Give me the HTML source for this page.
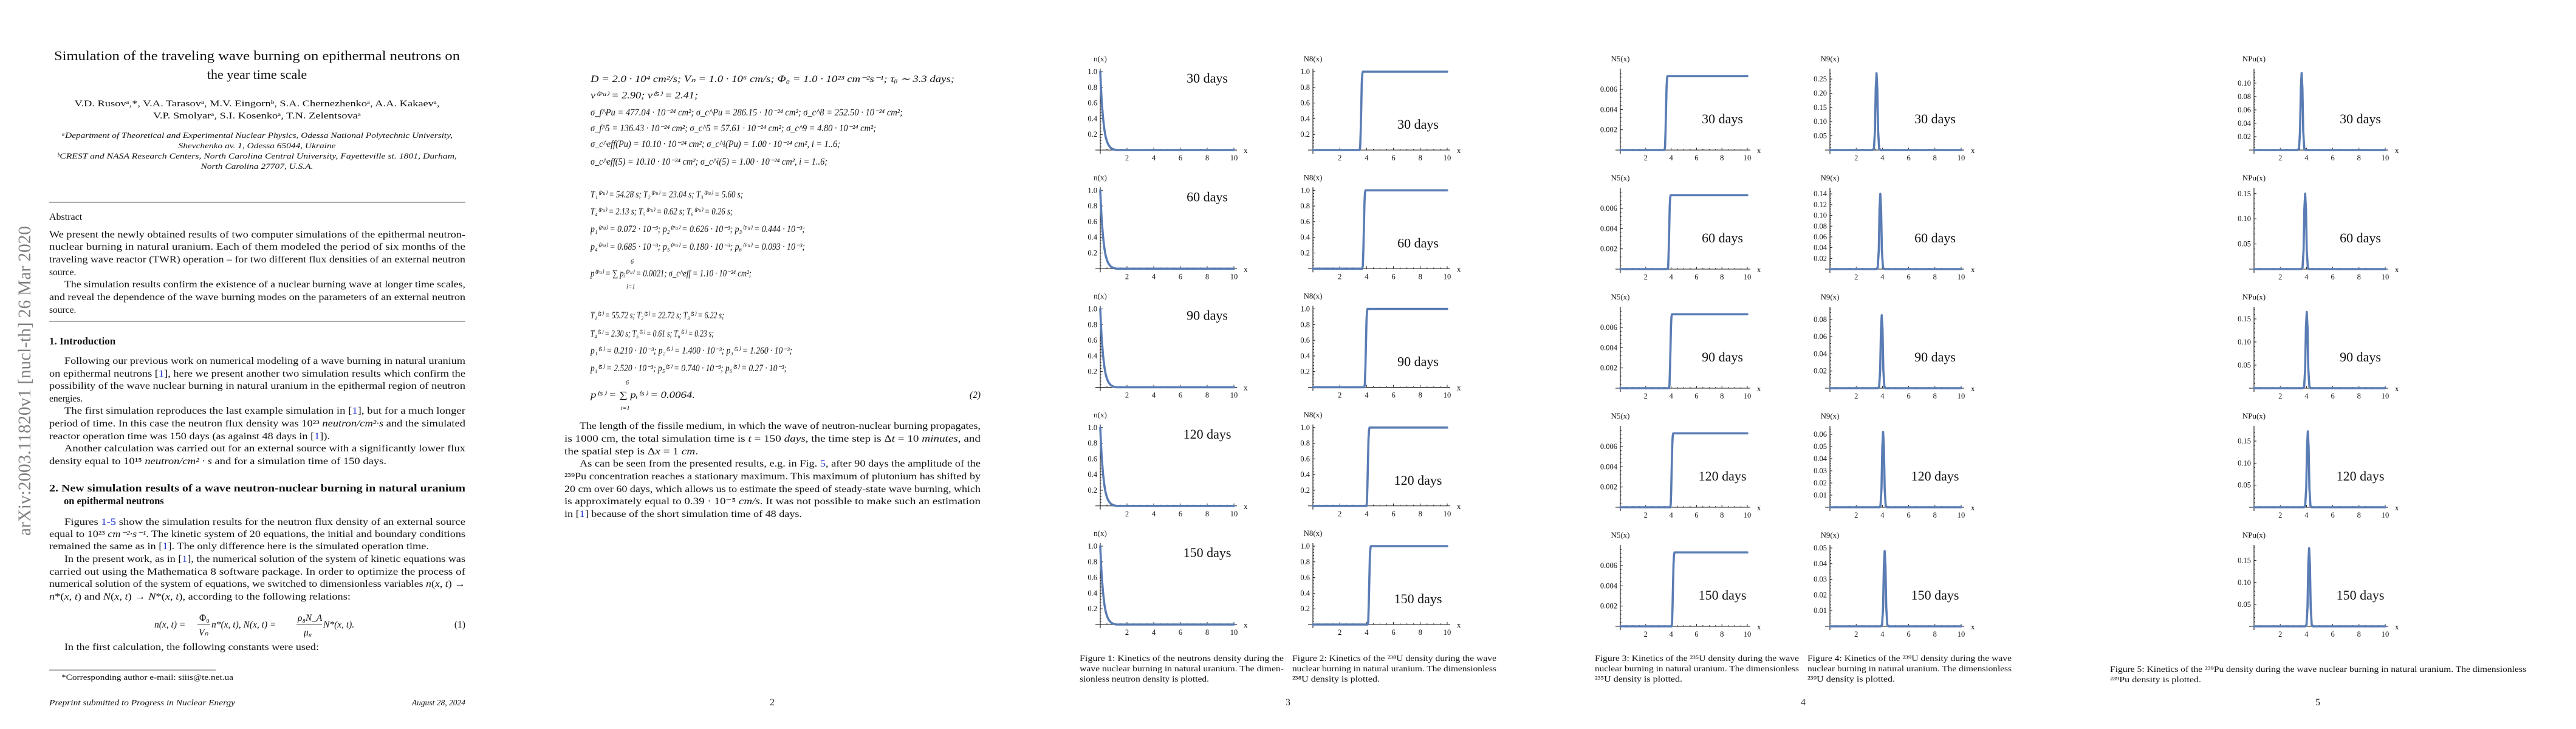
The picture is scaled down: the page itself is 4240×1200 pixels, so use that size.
<!DOCTYPE html>
<html><head><meta charset="utf-8"><title>TWR simulation paper</title>
<style>
html,body{margin:0;padding:0;background:#fff;}
svg{display:block;}
text{font-family:"Liberation Serif",serif;fill:#111;}
.it{font-style:italic;}
.b{font-weight:bold;}
</style></head>
<body>
<svg id="doc" width="4240" height="1200" viewBox="0 0 4240 1200" xmlns="http://www.w3.org/2000/svg">
<rect width="4240" height="1200" fill="#fff"/>

<!-- PAGE 1 -->
<g>
<text transform="translate(50,882) rotate(-90)" font-size="30" style="fill:#808080" textLength="510" lengthAdjust="spacingAndGlyphs">arXiv:2003.11820v1  [nucl-th]  26 Mar 2020</text>
<g font-size="22" text-anchor="middle">
<text x="423" y="99" textLength="668" lengthAdjust="spacingAndGlyphs">Simulation of the traveling wave burning on epithermal neutrons on</text>
<text x="423" y="130">the year time scale</text>
</g>
<g font-size="15" text-anchor="middle">
<text x="423" y="175" textLength="601" lengthAdjust="spacingAndGlyphs">V.D. Rusovᵃ,*, V.A. Tarasovᵃ, M.V. Eingornᵇ, S.A. Chernezhenkoᵃ, A.A. Kakaevᵃ,</text>
<text x="423" y="195" textLength="342" lengthAdjust="spacingAndGlyphs">V.P. Smolyarᵃ, S.I. Kosenkoᵃ, T.N. Zelentsovaᵃ</text>
</g>
<g font-size="13" class="it" text-anchor="middle">
<text x="423" y="227" class="it" textLength="644" lengthAdjust="spacingAndGlyphs">ᵃDepartment of Theoretical and Experimental Nuclear Physics, Odessa National Polytechnic University,</text>
<text x="423" y="244" class="it" textLength="259" lengthAdjust="spacingAndGlyphs">Shevchenko av. 1, Odessa 65044, Ukraine</text>
<text x="423" y="261" class="it" textLength="658" lengthAdjust="spacingAndGlyphs">ᵇCREST and NASA Research Centers, North Carolina Central University, Fayetteville st. 1801, Durham,</text>
<text x="423" y="278" class="it" textLength="185" lengthAdjust="spacingAndGlyphs">North Carolina 27707, U.S.A.</text>
</g>
<line x1="81" y1="333" x2="766" y2="333" stroke="#222" stroke-width="0.8"/>
<text x="81" y="362" font-size="16">Abstract</text>
<g font-size="15.5">
<text x="81" y="391" textLength="685" lengthAdjust="spacingAndGlyphs">We present the newly obtained results of two computer simulations of the epithermal neutron-</text>
<text x="81" y="411" textLength="685" lengthAdjust="spacingAndGlyphs">nuclear burning in natural uranium.  Each of them modeled the period of six months of the</text>
<text x="81" y="432" textLength="685" lengthAdjust="spacingAndGlyphs">traveling wave reactor (TWR) operation – for two different flux densities of an external neutron</text>
<text x="81" y="453">source.</text>
<text x="106" y="473" textLength="660" lengthAdjust="spacingAndGlyphs">The simulation results confirm the existence of a nuclear burning wave at longer time scales,</text>
<text x="81" y="494" textLength="685" lengthAdjust="spacingAndGlyphs">and reveal the dependence of the wave burning modes on the parameters of an external neutron</text>
<text x="81" y="515">source.</text>
</g>
<line x1="81" y1="529" x2="766" y2="529" stroke="#222" stroke-width="0.8"/>
<text x="81" y="567" font-size="17" class="b">1.  Introduction</text>
<g font-size="15.5">
<text x="106" y="599" textLength="660" lengthAdjust="spacingAndGlyphs">Following our previous work on numerical modeling of a wave burning in natural uranium</text>
<text x="81" y="620" textLength="685" lengthAdjust="spacingAndGlyphs">on epithermal neutrons [<tspan style="fill:#2233cc">1</tspan>], here we present another two simulation results which confirm the</text>
<text x="81" y="640" textLength="685" lengthAdjust="spacingAndGlyphs">possibility of the wave nuclear burning in natural uranium in the epithermal region of neutron</text>
<text x="81" y="661">energies.</text>
<text x="106" y="681" textLength="660" lengthAdjust="spacingAndGlyphs">The first simulation reproduces the last example simulation in [<tspan style="fill:#2233cc">1</tspan>], but for a much longer</text>
<text x="81" y="702" textLength="685" lengthAdjust="spacingAndGlyphs">period of time. In this case the neutron flux density was 10²³ <tspan class="it">neutron/cm²·s</tspan> and the simulated</text>
<text x="81" y="723" textLength="462" lengthAdjust="spacingAndGlyphs">reactor operation time was 150 days (as against 48 days in [<tspan style="fill:#2233cc">1</tspan>]).</text>
<text x="106" y="743" textLength="660" lengthAdjust="spacingAndGlyphs">Another calculation was carried out for an external source with a significantly lower flux</text>
<text x="81" y="764" textLength="555" lengthAdjust="spacingAndGlyphs">density equal to 10¹⁵ <tspan class="it">neutron/cm² · s</tspan> and for a simulation time of 150 days.</text>
</g>
<g font-size="16.5" class="b">
<text x="81" y="809" class="b" textLength="685" lengthAdjust="spacingAndGlyphs">2.  New simulation results of a wave neutron-nuclear burning in natural uranium</text>
<text x="105" y="830" class="b">on epithermal neutrons</text>
</g>
<g font-size="15.5">
<text x="106" y="864" textLength="660" lengthAdjust="spacingAndGlyphs">Figures <tspan style="fill:#2233cc">1-5</tspan> show the simulation results for the neutron flux density of an external source</text>
<text x="81" y="884" textLength="685" lengthAdjust="spacingAndGlyphs">equal to 10²³ <tspan class="it">cm⁻²·s⁻¹</tspan>. The kinetic system of 20 equations, the initial and boundary conditions</text>
<text x="81" y="904" textLength="625" lengthAdjust="spacingAndGlyphs">remained the same as in [<tspan style="fill:#2233cc">1</tspan>]. The only difference here is the simulated operation time.</text>
<text x="106" y="925" textLength="660" lengthAdjust="spacingAndGlyphs">In the present work, as in [<tspan style="fill:#2233cc">1</tspan>], the numerical solution of the system of kinetic equations was</text>
<text x="81" y="946" textLength="685" lengthAdjust="spacingAndGlyphs">carried out using the Mathematica 8 software package.  In order to optimize the process of</text>
<text x="81" y="966" textLength="685" lengthAdjust="spacingAndGlyphs">numerical solution of the system of equations, we switched to dimensionless variables <tspan class="it">n</tspan>(<tspan class="it">x, t</tspan>) →</text>
<text x="81" y="987" textLength="496" lengthAdjust="spacingAndGlyphs"><tspan class="it">n</tspan>*(<tspan class="it">x, t</tspan>) and <tspan class="it">N</tspan>(<tspan class="it">x, t</tspan>) → <tspan class="it">N</tspan>*(<tspan class="it">x, t</tspan>), according to the following relations:</text>
</g>
<g font-size="15.5">
<text x="254" y="1033" class="it">n(x, t) =</text>
<text x="328" y="1022">Φ₀</text>
<line x1="325" y1="1028" x2="346" y2="1028" stroke="#111" stroke-width="0.8"/>
<text x="327" y="1046" class="it">Vₙ</text>
<text x="348" y="1033" class="it">n*(x, t),   N(x, t) =</text>
<text x="490" y="1022" class="it">ρ₈N_A</text>
<line x1="488" y1="1028" x2="530" y2="1028" stroke="#111" stroke-width="0.8"/>
<text x="500" y="1046" class="it">μ₈</text>
<text x="532" y="1033" class="it">N*(x, t).</text>
<text x="766" y="1033" text-anchor="end">(1)</text>
</g>
<text x="106" y="1070" font-size="15.5" textLength="419" lengthAdjust="spacingAndGlyphs">In the first calculation, the following constants were used:</text>
<line x1="81" y1="1103" x2="355" y2="1103" stroke="#222" stroke-width="0.8"/>
<text x="101" y="1119" font-size="12.5" textLength="283" lengthAdjust="spacingAndGlyphs">*Corresponding author e-mail: siiis@te.net.ua</text>
<text x="81" y="1161" font-size="13.5" class="it" textLength="306" lengthAdjust="spacingAndGlyphs">Preprint submitted to Progress in Nuclear Energy</text>
<text x="766" y="1161" font-size="13.5" class="it" text-anchor="end">August 28, 2024</text>
</g>

<!-- PAGE 2 -->
<g font-size="15.5">
<g class="it">
<text x="972" y="135" class="it" textLength="599" lengthAdjust="spacingAndGlyphs">D = 2.0 · 10⁴ cm²/s; Vₙ = 1.0 · 10⁶ cm/s; Φ₀ = 1.0 · 10²³ cm⁻²s⁻¹; τᵦ ∼ 3.3 days;</text>
<text x="972" y="162" class="it" textLength="177" lengthAdjust="spacingAndGlyphs">ν⁽ᴾᵘ⁾ = 2.90; ν⁽⁵⁾ = 2.41;</text>
<text x="972" y="190" class="it" textLength="514" lengthAdjust="spacingAndGlyphs">σ_f^Pu = 477.04 · 10⁻²⁴ cm²; σ_c^Pu = 286.15 · 10⁻²⁴ cm²; σ_c^8 = 252.50 · 10⁻²⁴ cm²;</text>
<text x="972" y="216" class="it" textLength="470" lengthAdjust="spacingAndGlyphs">σ_f^5 = 136.43 · 10⁻²⁴ cm²; σ_c^5 = 57.61 · 10⁻²⁴ cm²; σ_c^9 = 4.80 · 10⁻²⁴ cm²;</text>
<text x="972" y="242" class="it" textLength="411" lengthAdjust="spacingAndGlyphs">σ_c^eff(Pu) = 10.10 · 10⁻²⁴ cm²; σ_c^i(Pu) = 1.00 · 10⁻²⁴ cm², i = 1..6;</text>
<text x="972" y="271" class="it" textLength="390" lengthAdjust="spacingAndGlyphs">σ_c^eff(5) = 10.10 · 10⁻²⁴ cm²; σ_c^i(5) = 1.00 · 10⁻²⁴ cm², i = 1..6;</text>
<text x="972" y="325" class="it" textLength="251" lengthAdjust="spacingAndGlyphs">T₁⁽ᴾᵘ⁾ = 54.28 s; T₂⁽ᴾᵘ⁾ = 23.04 s; T₃⁽ᴾᵘ⁾ = 5.60 s;</text>
<text x="972" y="353" class="it" textLength="234" lengthAdjust="spacingAndGlyphs">T₄⁽ᴾᵘ⁾ = 2.13 s; T₅⁽ᴾᵘ⁾ = 0.62 s; T₆⁽ᴾᵘ⁾ = 0.26 s;</text>
<text x="972" y="382" class="it" textLength="353" lengthAdjust="spacingAndGlyphs">p₁⁽ᴾᵘ⁾ = 0.072 · 10⁻³; p₂⁽ᴾᵘ⁾ = 0.626 · 10⁻³; p₃⁽ᴾᵘ⁾ = 0.444 · 10⁻³;</text>
<text x="972" y="411" class="it" textLength="353" lengthAdjust="spacingAndGlyphs">p₄⁽ᴾᵘ⁾ = 0.685 · 10⁻³; p₅⁽ᴾᵘ⁾ = 0.180 · 10⁻³; p₆⁽ᴾᵘ⁾ = 0.093 · 10⁻³;</text>
<text x="1038" y="434" font-size="10">6</text>
<text x="972" y="455" class="it" textLength="265" lengthAdjust="spacingAndGlyphs">p⁽ᴾᵘ⁾ = ∑ pᵢ⁽ᴾᵘ⁾ = 0.0021; σ_c^eff = 1.10 · 10⁻²⁴ cm²;</text>
<text x="1031" y="475" font-size="10" class="it">i=1</text>
<text x="972" y="524" class="it" textLength="220" lengthAdjust="spacingAndGlyphs">T₁⁽⁵⁾ = 55.72 s; T₂⁽⁵⁾ = 22.72 s; T₃⁽⁵⁾ = 6.22 s;</text>
<text x="972" y="554" class="it" textLength="203" lengthAdjust="spacingAndGlyphs">T₄⁽⁵⁾ = 2.30 s; T₅⁽⁵⁾ = 0.61 s; T₆⁽⁵⁾ = 0.23 s;</text>
<text x="972" y="582" class="it" textLength="332" lengthAdjust="spacingAndGlyphs">p₁⁽⁵⁾ = 0.210 · 10⁻³; p₂⁽⁵⁾ = 1.400 · 10⁻³; p₃⁽⁵⁾ = 1.260 · 10⁻³;</text>
<text x="972" y="611" class="it" textLength="323" lengthAdjust="spacingAndGlyphs">p₄⁽⁵⁾ = 2.520 · 10⁻³; p₅⁽⁵⁾ = 0.740 · 10⁻³; p₆⁽⁵⁾ = 0.27 · 10⁻³;</text>
<text x="1030" y="633" font-size="10">6</text>
<text x="972" y="655" class="it" textLength="172" lengthAdjust="spacingAndGlyphs">p⁽⁵⁾ = ∑ pᵢ⁽⁵⁾ = 0.0064.</text>
<text x="1022" y="675" font-size="10" class="it">i=1</text>
<text x="1614" y="655" text-anchor="end">(2)</text>
</g>
<g>
<text x="954" y="706" textLength="660" lengthAdjust="spacingAndGlyphs">The length of the fissile medium, in which the wave of neutron-nuclear burning propagates,</text>
<text x="929" y="727" textLength="685" lengthAdjust="spacingAndGlyphs">is 1000 cm, the total simulation time is <tspan class="it">t</tspan> = 150 <tspan class="it">days</tspan>, the time step is Δ<tspan class="it">t</tspan> = 10 <tspan class="it">minutes</tspan>, and</text>
<text x="929" y="748" textLength="220" lengthAdjust="spacingAndGlyphs">the spatial step is Δ<tspan class="it">x</tspan> = 1 <tspan class="it">cm</tspan>.</text>
<text x="954" y="768" textLength="660" lengthAdjust="spacingAndGlyphs">As can be seen from the presented results, e.g. in Fig. <tspan style="fill:#2233cc">5</tspan>, after 90 days the amplitude of the</text>
<text x="929" y="789" textLength="685" lengthAdjust="spacingAndGlyphs">²³⁹Pu concentration reaches a stationary maximum.  This maximum of plutonium has shifted by</text>
<text x="929" y="810" textLength="685" lengthAdjust="spacingAndGlyphs">20 cm over 60 days, which allows us to estimate the speed of steady-state wave burning, which</text>
<text x="929" y="830" textLength="685" lengthAdjust="spacingAndGlyphs">is approximately equal to 0.39 · 10⁻⁵ <tspan class="it">cm/s</tspan>.  It was not possible to make such an estimation</text>
<text x="929" y="851" textLength="391" lengthAdjust="spacingAndGlyphs">in [<tspan style="fill:#2233cc">1</tspan>] because of the short simulation time of 48 days.</text>
</g>
<text x="1271" y="1161" text-anchor="middle">2</text>
</g>

<!-- CAPTIONS & PAGE NUMBERS FOR PAGES 3-5 -->
<g font-size="13.5">
<g>
<text x="1777" y="1088" textLength="336" lengthAdjust="spacingAndGlyphs">Figure 1: Kinetics of the neutrons density during the</text>
<text x="1777" y="1105" textLength="336" lengthAdjust="spacingAndGlyphs">wave nuclear burning in natural uranium. The dimen-</text>
<text x="1777" y="1122" textLength="213" lengthAdjust="spacingAndGlyphs">sionless neutron density is plotted.</text>
</g>
<g>
<text x="2127" y="1088" textLength="336" lengthAdjust="spacingAndGlyphs">Figure 2: Kinetics of the ²³⁸U density during the wave</text>
<text x="2127" y="1105" textLength="336" lengthAdjust="spacingAndGlyphs">nuclear burning in natural uranium.  The dimensionless</text>
<text x="2127" y="1122" textLength="144" lengthAdjust="spacingAndGlyphs">²³⁸U density is plotted.</text>
</g>
<text x="2120" y="1161" font-size="15.5" text-anchor="middle">3</text>
<g>
<text x="2625" y="1088" textLength="336" lengthAdjust="spacingAndGlyphs">Figure 3: Kinetics of the ²³⁵U density during the wave</text>
<text x="2625" y="1105" textLength="336" lengthAdjust="spacingAndGlyphs">nuclear burning in natural uranium.  The dimensionless</text>
<text x="2625" y="1122" textLength="144" lengthAdjust="spacingAndGlyphs">²³⁵U density is plotted.</text>
</g>
<g>
<text x="2975" y="1088" textLength="336" lengthAdjust="spacingAndGlyphs">Figure 4: Kinetics of the ²³⁹U density during the wave</text>
<text x="2975" y="1105" textLength="336" lengthAdjust="spacingAndGlyphs">nuclear burning in natural uranium.  The dimensionless</text>
<text x="2975" y="1122" textLength="144" lengthAdjust="spacingAndGlyphs">²³⁹U density is plotted.</text>
</g>
<text x="2968" y="1161" font-size="15.5" text-anchor="middle">4</text>
<g>
<text x="3473" y="1106" textLength="685" lengthAdjust="spacingAndGlyphs">Figure 5: Kinetics of the ²³⁹Pu density during the wave nuclear burning in natural uranium.  The dimensionless</text>
<text x="3473" y="1123" textLength="150" lengthAdjust="spacingAndGlyphs">²³⁹Pu density is plotted.</text>
</g>
<text x="3815" y="1161" font-size="15.5" text-anchor="middle">5</text>
</g>

<g id="plots"></g>
</svg>

<script>
// ---- chart data ----
const dayLabels = ["30 days", "60 days", "90 days", "120 days", "150 days"];
// neutron density n(x): sample points of the decaying profile
const nX = [0, 0.05, 0.1, 0.2, 0.3, 0.4, 0.5, 0.6, 0.7, 0.8, 1.0, 1.2, 10];
const nY = [1.0, 0.8, 0.64, 0.42, 0.27, 0.17, 0.11, 0.07, 0.045, 0.025, 0.008, 0, 0];
// U-238 front position and plateau
const n8Step = [3.6, 3.8, 3.95, 4.1, 4.2];
const n8Plateau = [1.0, 1.0, 1.0, 1.0, 1.0];
// U-235 front position and plateau
const n5Step = [3.6, 3.85, 3.95, 4.05, 4.15];
const n5Plateau = [0.0073, 0.0073, 0.0073, 0.0073, 0.0073];
// shared front shape (offset from front centre, fraction of plateau)
const stepDx = [-0.12, -0.08, -0.04, 0, 0.04, 0.08, 0.12];
const stepFrac = [0, 0.04, 0.25, 0.55, 0.85, 0.97, 1];
// U-239 peaks
const n9PeakX = [3.55, 3.84, 3.95, 4.05, 4.17];
const n9PeakY = [0.27, 0.14, 0.085, 0.062, 0.048];
const n9AxisMax = [0.278, 0.147, 0.092, 0.065, 0.0504];
const n9Ticks = [[0.05, 0.10, 0.15, 0.20, 0.25], [0.02, 0.04, 0.06, 0.08, 0.10, 0.12, 0.14], [0.02, 0.04, 0.06, 0.08], [0.01, 0.02, 0.03, 0.04, 0.05, 0.06], [0.01, 0.02, 0.03, 0.04, 0.05]];
// Pu-239 peaks
const puPeakX = [3.63, 3.9, 4.02, 4.1, 4.2];
const puPeakY = [0.115, 0.15, 0.165, 0.172, 0.178];
const puAxisMax = [0.118, 0.157, 0.171, 0.179, 0.18];
const puTicks = [[0.02, 0.04, 0.06, 0.08, 0.10], [0.05, 0.10, 0.15], [0.05, 0.10, 0.15], [0.05, 0.10, 0.15], [0.05, 0.10, 0.15]];
// shared peak shape
const peakDx = [-0.3, -0.2, -0.12, -0.06, 0, 0.06, 0.12, 0.2, 0.3];
const peakFrac = [0, 0.02, 0.25, 0.8, 1, 0.8, 0.25, 0.02, 0];
const xTickLabels = ["2", "4", "6", "8", "10"];
const unitTicks = [0.2, 0.4, 0.6, 0.8, 1.0];
const n5Ticks = [0.002, 0.004, 0.006];

// ---- drawing ----
const NS = "http://www.w3.org/2000/svg";
const root = document.getElementById("plots");
const PLOT_H = 130;
function mk(tag, attrs, parent) {
  const e = document.createElementNS(NS, tag);
  for (const k in attrs) e.setAttribute(k, attrs[k]);
  parent.appendChild(e);
  return e;
}
function panel(cfg) {
  const g = mk("g", {}, root);
  
  
  const ox = cfg.ox, oy = cfg.oy, sx = (cfg.xEnd - cfg.ox) / 10, sy = PLOT_H / cfg.yMax;
  const X = v => ox + v * sx, Y = v => oy - v * sy;
  // axes
  const xa = mk("line", {x1: ox - 8, y1: oy, x2: cfg.xEnd + 5, y2: oy, stroke: "#111", "stroke-width": 1.1}, g);
  
  
  const ya = mk("line", {x1: ox, y1: oy + 6, x2: ox, y2: oy - PLOT_H - 4, stroke: "#111", "stroke-width": 1.1}, g);
  
  
  // x ticks
  for (let v = 0.5; v <= 10.01; v += 0.5) {
    const major = Math.abs(v % 2) < 0.01;
    mk("line", {x1: X(v), y1: oy, x2: X(v), y2: oy - (major ? 4 : 2), stroke: "#111", "stroke-width": 0.9}, g);
  }
  xTickLabels.forEach(s => {
    const t = mk("text", {x: X(parseFloat(s)), y: oy + 17, "font-size": 12.5, "text-anchor": "middle"}, g);
    
    
    t.textContent = s;
  });
  const xl = mk("text", {x: cfg.xEnd + 16, y: oy + 5, "font-size": 13}, g);
  
  
  xl.textContent = "x";
  // y ticks
  const ticks = cfg.ticks;
  const step = ticks.length > 1 ? ticks[1] - ticks[0] : ticks[0];
  for (let v = step / 5; v <= cfg.yMax + 1e-9; v += step / 5) {
    mk("line", {x1: ox, y1: Y(v), x2: ox + 2, y2: Y(v), stroke: "#111", "stroke-width": 0.8}, g);
  }
  ticks.forEach(v => {
    mk("line", {x1: ox, y1: Y(v), x2: ox + 4, y2: Y(v), stroke: "#111", "stroke-width": 1}, g);
    const t = mk("text", {x: ox - 5, y: Y(v) + 4, "font-size": 12.5, "text-anchor": "end"}, g);
    
    
    t.textContent = v.toFixed(cfg.dec);
  });
  const yl = mk("text", {x: ox, y: oy - PLOT_H - 16, "font-size": 13, "text-anchor": "middle"}, g);
  
  
  yl.textContent = cfg.ylabel;
  // series
  const pts = cfg.xs.map((x, i) => X(x).toFixed(1) + "," + Y(cfg.ys[i]).toFixed(1)).join(" ");
  const pl = mk("polyline", {points: pts, fill: "none", stroke: "#5a7cb4", "stroke-width": 3.6, "stroke-linejoin": "round", "stroke-linecap": "round"}, g);
  
  
  // day label
  const dl = mk("text", {x: ox + cfg.dayDx, y: oy - cfg.dayDy, "font-size": 22, "text-anchor": "middle"}, g);
  
  
  dl.textContent = cfg.day;
}
function stepSeries(c, plateau) {
  const xs = [0], ys = [0];
  stepDx.forEach((d, i) => { xs.push(c + d); ys.push(stepFrac[i] * plateau); });
  xs.push(10); ys.push(plateau);
  return [xs, ys];
}
function peakSeries(c, h) {
  const xs = [0], ys = [0];
  peakDx.forEach((d, i) => { xs.push(c + d); ys.push(peakFrac[i] * h); });
  xs.push(10); ys.push(0);
  return [xs, ys];
}
for (let r = 0; r < 5; r++) {
  const oy3 = 247 + r * 195.25;
  const oy45 = 247 + r * 196;
  panel({name: "neutron-density-panel-" + (r + 1), ox: 1811, oy: oy3, xEnd: 2031, yMax: 1.008, ticks: unitTicks, dec: 1, ylabel: "n(x)", xs: nX, ys: nY, day: dayLabels[r], dayDx: 176, dayDy: 111});
  let s = stepSeries(n8Step[r], n8Plateau[r]);
  panel({name: "u238-density-panel-" + (r + 1), ox: 2161, oy: oy3, xEnd: 2382, yMax: 1.008, ticks: unitTicks, dec: 1, ylabel: "N8(x)", xs: s[0], ys: s[1], day: dayLabels[r], dayDx: 173, dayDy: 35});
  s = stepSeries(n5Step[r], n5Plateau[r]);
  panel({name: "u235-density-panel-" + (r + 1), ox: 2667, oy: oy45, xEnd: 2876, yMax: 0.0078, ticks: n5Ticks, dec: 3, ylabel: "N5(x)", xs: s[0], ys: s[1], day: dayLabels[r], dayDx: 168, dayDy: 44});
  s = peakSeries(n9PeakX[r], n9PeakY[r]);
  panel({name: "u239-density-panel-" + (r + 1), ox: 3012, oy: oy45, xEnd: 3228, yMax: n9AxisMax[r], ticks: n9Ticks[r], dec: 2, ylabel: "N9(x)", xs: s[0], ys: s[1], day: dayLabels[r], dayDx: 173, dayDy: 44});
  s = peakSeries(puPeakX[r], puPeakY[r]);
  panel({name: "pu239-density-panel-" + (r + 1), ox: 3710, oy: oy45, xEnd: 3926, yMax: puAxisMax[r], ticks: puTicks[r], dec: 2, ylabel: "NPu(x)", xs: s[0], ys: s[1], day: dayLabels[r], dayDx: 175, dayDy: 44});
}
</script>
</body></html>
